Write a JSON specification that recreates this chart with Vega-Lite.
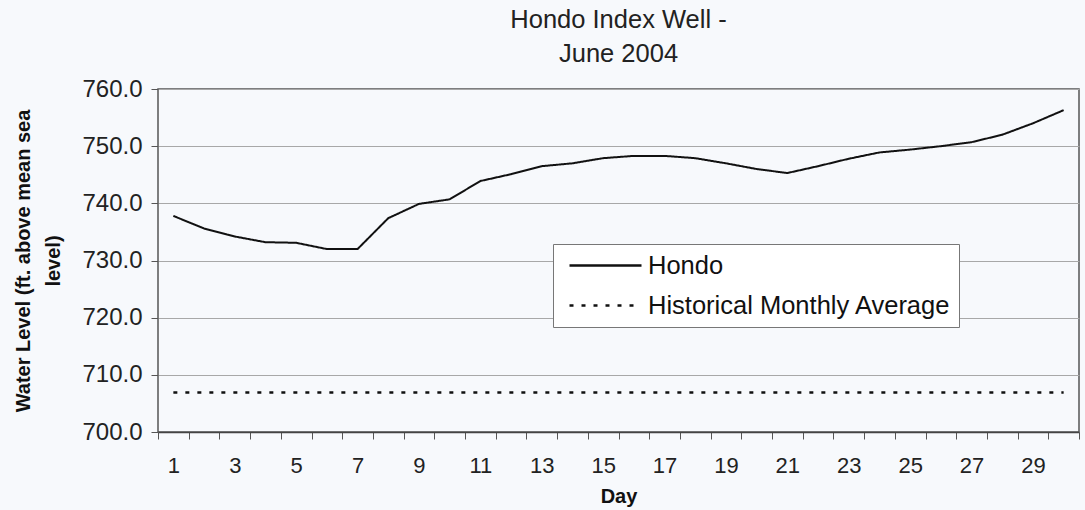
{
  "$schema": "https://vega.github.io/schema/vega-lite/v6.json",
  "width": 921,
  "height": 343,
  "autosize": {"type": "none"},
  "padding": {"left": 158, "top": 89, "right": 6, "bottom": 78},
  "background": "#f7f9fc",
  "title": {
    "text": ["Hondo Index Well -", "June 2004"],
    "font": "Liberation Sans",
    "fontSize": 25.5,
    "fontWeight": "normal",
    "lineHeight": 34,
    "anchor": "middle",
    "frame": "group",
    "offset": 10,
    "color": "#222222"
  },
  "config": {
    "font": "Liberation Sans",
    "view": {"stroke": "#555555", "strokeWidth": 1.5}
  },
  "data": {
    "values": [
      {"day": 1, "series": "Hondo", "value": 737.8},
      {"day": 2, "series": "Hondo", "value": 735.6},
      {"day": 3, "series": "Hondo", "value": 734.2},
      {"day": 4, "series": "Hondo", "value": 733.2},
      {"day": 5, "series": "Hondo", "value": 733.1},
      {"day": 6, "series": "Hondo", "value": 732.0},
      {"day": 7, "series": "Hondo", "value": 732.0},
      {"day": 8, "series": "Hondo", "value": 737.4},
      {"day": 9, "series": "Hondo", "value": 739.9},
      {"day": 10, "series": "Hondo", "value": 740.7},
      {"day": 11, "series": "Hondo", "value": 743.9},
      {"day": 12, "series": "Hondo", "value": 745.1},
      {"day": 13, "series": "Hondo", "value": 746.5},
      {"day": 14, "series": "Hondo", "value": 747.0},
      {"day": 15, "series": "Hondo", "value": 747.9},
      {"day": 16, "series": "Hondo", "value": 748.3},
      {"day": 17, "series": "Hondo", "value": 748.3},
      {"day": 18, "series": "Hondo", "value": 747.9},
      {"day": 19, "series": "Hondo", "value": 747.0},
      {"day": 20, "series": "Hondo", "value": 746.0},
      {"day": 21, "series": "Hondo", "value": 745.3},
      {"day": 22, "series": "Hondo", "value": 746.5},
      {"day": 23, "series": "Hondo", "value": 747.8},
      {"day": 24, "series": "Hondo", "value": 748.9},
      {"day": 25, "series": "Hondo", "value": 749.4},
      {"day": 26, "series": "Hondo", "value": 750.0},
      {"day": 27, "series": "Hondo", "value": 750.7},
      {"day": 28, "series": "Hondo", "value": 752.0},
      {"day": 29, "series": "Hondo", "value": 754.0},
      {"day": 30, "series": "Hondo", "value": 756.3},
      {"day": 1, "series": "Historical Monthly Average", "value": 706.9},
      {"day": 2, "series": "Historical Monthly Average", "value": 706.9},
      {"day": 3, "series": "Historical Monthly Average", "value": 706.9},
      {"day": 4, "series": "Historical Monthly Average", "value": 706.9},
      {"day": 5, "series": "Historical Monthly Average", "value": 706.9},
      {"day": 6, "series": "Historical Monthly Average", "value": 706.9},
      {"day": 7, "series": "Historical Monthly Average", "value": 706.9},
      {"day": 8, "series": "Historical Monthly Average", "value": 706.9},
      {"day": 9, "series": "Historical Monthly Average", "value": 706.9},
      {"day": 10, "series": "Historical Monthly Average", "value": 706.9},
      {"day": 11, "series": "Historical Monthly Average", "value": 706.9},
      {"day": 12, "series": "Historical Monthly Average", "value": 706.9},
      {"day": 13, "series": "Historical Monthly Average", "value": 706.9},
      {"day": 14, "series": "Historical Monthly Average", "value": 706.9},
      {"day": 15, "series": "Historical Monthly Average", "value": 706.9},
      {"day": 16, "series": "Historical Monthly Average", "value": 706.9},
      {"day": 17, "series": "Historical Monthly Average", "value": 706.9},
      {"day": 18, "series": "Historical Monthly Average", "value": 706.9},
      {"day": 19, "series": "Historical Monthly Average", "value": 706.9},
      {"day": 20, "series": "Historical Monthly Average", "value": 706.9},
      {"day": 21, "series": "Historical Monthly Average", "value": 706.9},
      {"day": 22, "series": "Historical Monthly Average", "value": 706.9},
      {"day": 23, "series": "Historical Monthly Average", "value": 706.9},
      {"day": 24, "series": "Historical Monthly Average", "value": 706.9},
      {"day": 25, "series": "Historical Monthly Average", "value": 706.9},
      {"day": 26, "series": "Historical Monthly Average", "value": 706.9},
      {"day": 27, "series": "Historical Monthly Average", "value": 706.9},
      {"day": 28, "series": "Historical Monthly Average", "value": 706.9},
      {"day": 29, "series": "Historical Monthly Average", "value": 706.9},
      {"day": 30, "series": "Historical Monthly Average", "value": 706.9}
    ]
  },
  "encoding": {
    "y": {
      "field": "value",
      "type": "quantitative",
      "scale": {"domain": [700, 760], "nice": false, "zero": false},
      "axis": {
        "values": [700, 710, 720, 730, 740, 750, 760],
        "format": ".1f",
        "title": ["Water Level (ft. above mean sea", "level)"],
        "titleFont": "Liberation Sans",
        "titleFontSize": 20,
        "titleFontWeight": "bold",
        "titleColor": "#111111",
        "titleAngle": 270,
        "titleAlign": "center",
        "titleBaseline": "middle",
        "titleLineHeight": 30,
        "titleX": -135,
        "titleY": 171.5,
        "labelFont": "Liberation Sans",
        "labelFontSize": 24,
        "labelColor": "#222222",
        "labelPadding": 9,
        "tickSize": 7,
        "tickColor": "#555555",
        "domain": false,
        "grid": true,
        "gridColor": "#a8a8a8",
        "gridWidth": 1
      }
    }
  },
  "layer": [
    {
      "transform": [{"filter": "datum.series === 'Hondo'"}],
      "mark": {"type": "line", "color": "#111111", "strokeWidth": 2},
      "encoding": {
        "x": {
          "field": "day",
          "type": "quantitative",
          "scale": {"domain": [0.5, 30.5], "nice": false, "zero": false},
          "axis": {
            "orient": "bottom",
            "values": [1, 3, 5, 7, 9, 11, 13, 15, 17, 19, 21, 23, 25, 27, 29],
            "ticks": false,
            "tickSize": 0,
            "domain": false,
            "grid": false,
            "labelFont": "Liberation Sans",
            "labelFontSize": 22,
            "labelColor": "#222222",
            "labelPadding": 23,
            "title": "Day",
            "titleFont": "Liberation Sans",
            "titleFontSize": 20,
            "titleFontWeight": "bold",
            "titleColor": "#111111",
            "titleBaseline": "alphabetic",
            "titleY": 70
          }
        },
        "strokeDash": {
          "field": "series",
          "type": "nominal",
          "scale": {"domain": ["Hondo", "Historical Monthly Average"], "range": [[1, 0], [4, 8]]},
          "legend": {
            "title": null,
            "orient": "none",
            "legendX": 395,
            "legendY": 155,
            "direction": "vertical",
            "fillColor": "#ffffff",
            "strokeColor": "#777777",
            "padding": 8,
            "labelFont": "Liberation Sans",
            "labelFontSize": 25.5,
            "labelColor": "#111111",
            "labelLimit": 500,
            "symbolType": "M-5,0H1",
            "symbolSize": 576,
            "symbolStrokeWidth": 2.5,
            "symbolStrokeColor": "#111111",
            "symbolFillColor": "transparent",
            "symbolOffset": 55,
            "labelOffset": 5,
            "rowPadding": 13
          }
        }
      }
    },
    {
      "transform": [{"filter": "datum.series === 'Historical Monthly Average'"}],
      "mark": {"type": "line", "color": "#111111", "strokeWidth": 2.5},
      "encoding": {
        "x": {
          "field": "day",
          "type": "quantitative",
          "scale": {"domain": [0.5, 30.5], "nice": false, "zero": false},
          "axis": {
            "orient": "bottom",
            "values": [0.5, 1.5, 2.5, 3.5, 4.5, 5.5, 6.5, 7.5, 8.5, 9.5, 10.5, 11.5, 12.5, 13.5, 14.5, 15.5, 16.5, 17.5, 18.5, 19.5, 20.5, 21.5, 22.5, 23.5, 24.5, 25.5, 26.5, 27.5, 28.5, 29.5, 30.5],
            "labels": false,
            "ticks": true,
            "tickSize": 7,
            "tickColor": "#555555",
            "domain": true,
            "domainColor": "#444444",
            "domainWidth": 1.5,
            "grid": false,
            "title": null
          }
        },
        "strokeDash": {"field": "series", "type": "nominal"}
      }
    }
  ],
  "resolve": {"axis": {"x": "independent"}}
}
